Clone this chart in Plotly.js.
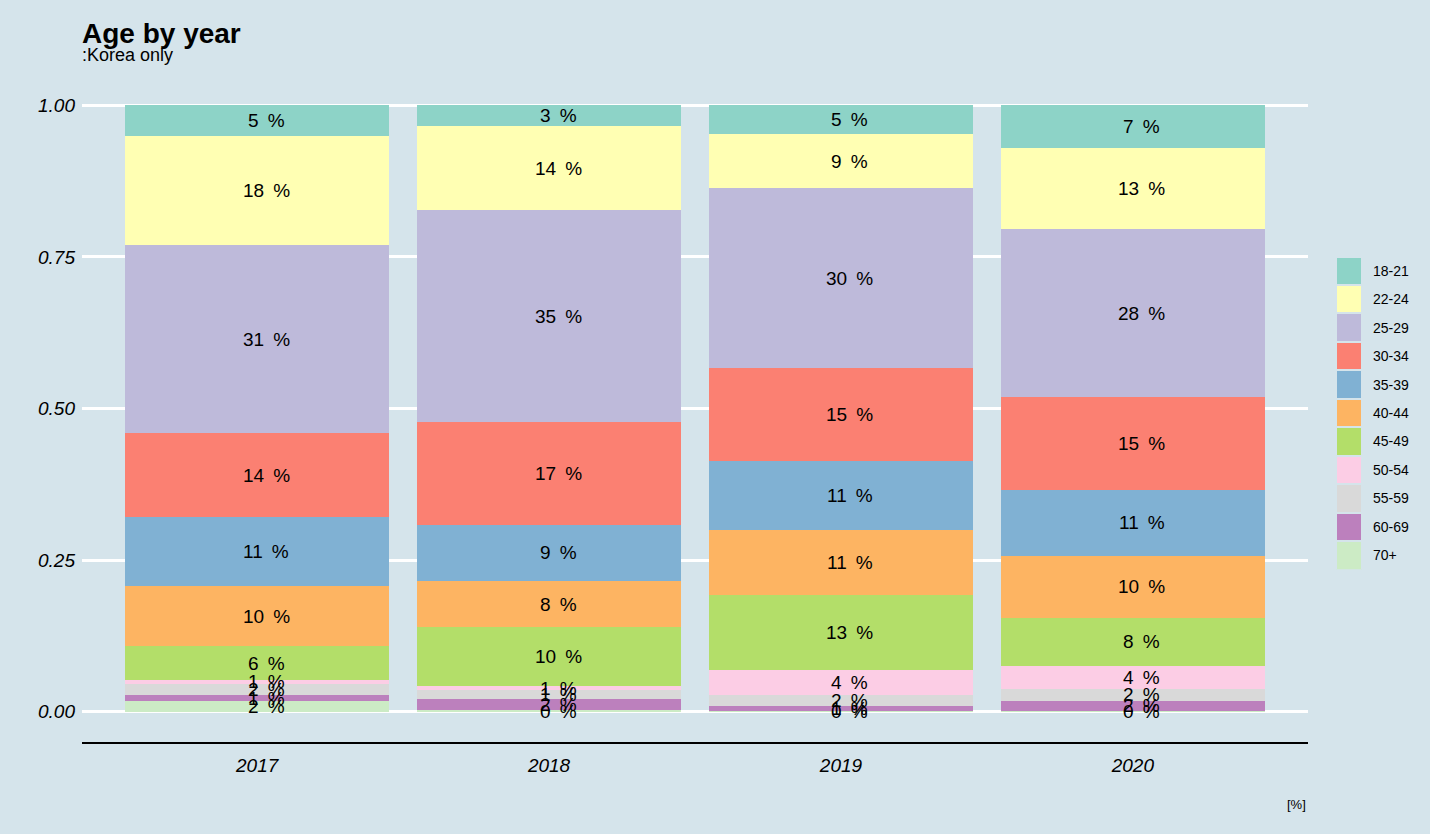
<!DOCTYPE html>
<html>
<head>
<meta charset="utf-8">
<script src="https://cdn.plot.ly/plotly-3.0.1.min.js"></script>
<style>html,body{margin:0;padding:0;background:#d5e4eb;}#chart{width:1430px;height:834px;}</style>
</head>
<body>
<div id="chart"></div>
<script>
// ---- data (shares of each age group per year) ----
const years = ['2017', '2018', '2019', '2020'];
const ageGroups = ['18-21', '22-24', '25-29', '30-34', '35-39', '40-44', '45-49', '50-54', '55-59', '60-69', '70+'];
const share_18_21 = [0.051, 0.034, 0.048, 0.071];
const share_22_24 = [0.180, 0.139, 0.089, 0.133];
const share_25_29 = [0.311, 0.349, 0.296, 0.277];
const share_30_34 = [0.138, 0.170, 0.153, 0.153];
const share_35_39 = [0.114, 0.092, 0.114, 0.109];
const share_40_44 = [0.099, 0.077, 0.107, 0.102];
const share_45_49 = [0.056, 0.097, 0.125, 0.079];
const share_50_54 = [0.006, 0.007, 0.040, 0.038];
const share_55_59 = [0.019, 0.014, 0.019, 0.020];
const share_60_69 = [0.010, 0.019, 0.008, 0.017];
const share_70p   = [0.017, 0.002, 0.001, 0.001];
const colors = ['#8DD3C7', '#FFFFB3', '#BEBADA', '#FB8072', '#80B1D3', '#FDB462', '#B3DE69', '#FCCDE5', '#D9D9D9', '#BC80BD', '#CCEBC5'];

const series = [share_18_21, share_22_24, share_25_29, share_30_34, share_35_39, share_40_44,
                share_45_49, share_50_54, share_55_59, share_60_69, share_70p];

const BG = '#d5e4eb';
const FONT = 'Liberation Sans, Arial, Helvetica, sans-serif';

const traces = [];
const labelAnn = [];
const base = years.map(() => 0);
// stack bottom-up: 70+ first, 18-21 last (on top)
for (let i = ageGroups.length - 1; i >= 0; i--) {
  traces.push({
    type: 'bar',
    name: ageGroups[i],
    x: years,
    y: series[i],
    width: 0.904,
    marker: {color: colors[i], line: {width: 0}},
    hoverinfo: 'skip',
    showlegend: false,
    xaxis: 'x', yaxis: 'y'
  });
  series[i].forEach((v, j) => {
    labelAnn.push({
      xref: 'x', yref: 'y', x: j, y: base[j] + v / 2,
      xanchor: 'center', yanchor: 'middle', xshift: 9,
      text: Math.round(v * 100) + '\u00A0\u2009%', showarrow: false,
      font: {family: FONT, size: 19, color: '#000000'}
    });
    base[j] += v;
  });
}

// custom legend: one unit block per age group, stacked on a side axis
const legendAnn = [];
for (let i = ageGroups.length - 1; i >= 0; i--) {
  traces.push({
    type: 'bar',
    name: ageGroups[i],
    x: [0],
    y: [1],
    width: 1,
    marker: {color: colors[i], line: {width: 2, color: BG}},
    hoverinfo: 'skip',
    showlegend: false,
    xaxis: 'x2', yaxis: 'y2'
  });
  const pos = ageGroups.length - 1 - i; // stacking index from bottom
  legendAnn.push({
    xref: 'x2', yref: 'y2', x: 0.5, y: pos + 0.5,
    xanchor: 'left', yanchor: 'middle', xshift: 9,
    text: ageGroups[i], showarrow: false,
    font: {family: FONT, size: 14, color: '#000000'}
  });
}

const W = 1430, H = 834;
const mL = 82, mR = 20, mT = 75, mB = 92;
const pw = W - mL - mR, ph = H - mT - mB;

const layout = {
  width: W, height: H,
  paper_bgcolor: BG, plot_bgcolor: BG,
  margin: {l: mL, r: mR, t: mT, b: mB, pad: 0},
  barmode: 'stack',
  bargap: 0.1,
  font: {family: FONT, color: '#000000'},
  title: {
    text: 'Age by year',
    x: 82 / W, xref: 'container', xanchor: 'left',
    y: 1 - 23 / H, yref: 'container', yanchor: 'top',
    font: {family: FONT, size: 28, weight: 'bold', color: '#000000'}
  },
  xaxis: {
    domain: [0, (1308 - mL) / pw],
    type: 'category',
    range: [-0.6, 3.6],
    showline: true, linecolor: '#000000', linewidth: 2,
    showgrid: false, zeroline: false,
    ticks: '', ticklabelstandoff: 5,
    tickfont: {family: FONT, size: 19, style: 'italic', color: '#000000'},
    fixedrange: true
  },
  yaxis: {
    range: [-0.05, 1.05],
    tickvals: [0, 0.25, 0.5, 0.75, 1],
    tickformat: '.2f',
    showgrid: true, gridcolor: '#ffffff', gridwidth: 3,
    zeroline: false, showline: false,
    ticks: '', ticklabelstandoff: 6,
    tickfont: {family: FONT, size: 19, style: 'italic', color: '#000000'},
    fixedrange: true
  },
  xaxis2: {
    domain: [(1336 - mL) / pw, (1362 - mL) / pw],
    range: [-0.5, 0.5], anchor: 'y2',
    visible: false, fixedrange: true
  },
  yaxis2: {
    domain: [(742 - 569.5) / ph, (742 - 256.5) / ph],
    range: [0, ageGroups.length], anchor: 'x2',
    visible: false, fixedrange: true
  },
  annotations: [
    {
      xref: 'x domain', yref: 'y domain', x: 0, y: 1 + (75 - 55) / ph,
      xanchor: 'left', yanchor: 'middle', xshift: -2,
      text: ':Korea only', showarrow: false,
      font: {family: FONT, size: 18, color: '#000000'}
    },
    {
      xref: 'x domain', yref: 'y domain', x: 1, y: -(804 - 742) / ph,
      xanchor: 'right', yanchor: 'middle',
      text: '[%]', showarrow: false,
      font: {family: FONT, size: 13, color: '#000000'}
    }
  ].concat(labelAnn, legendAnn)
};

Plotly.newPlot('chart', traces, layout, {displayModeBar: false, staticPlot: true});
</script>
</body>
</html>
